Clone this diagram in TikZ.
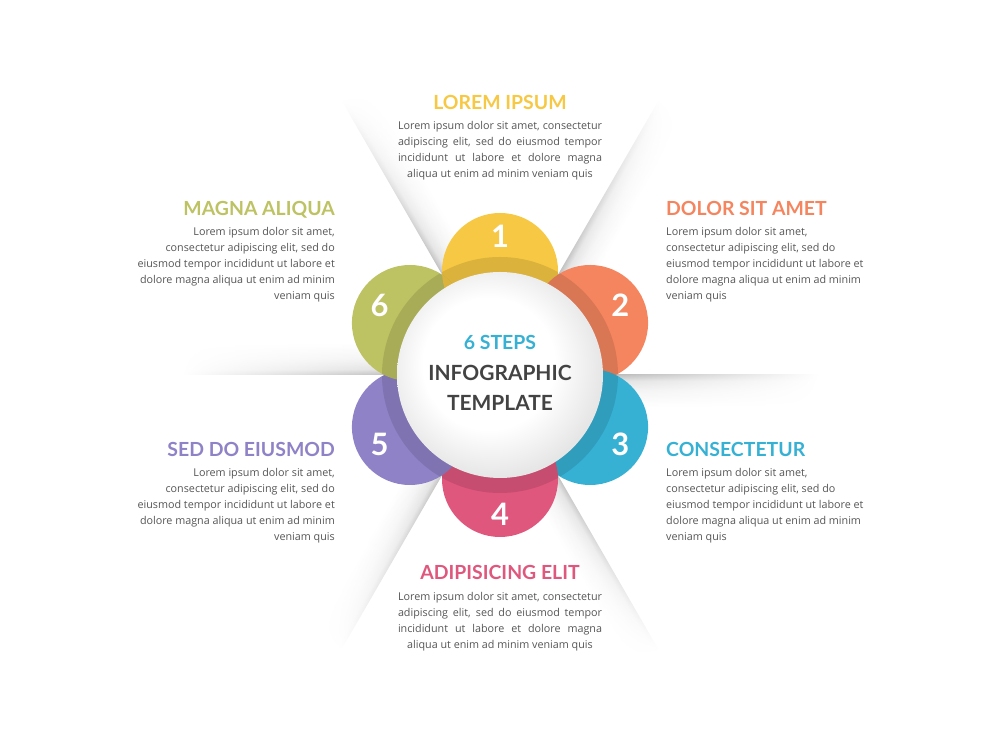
\documentclass[tikz,border=0pt]{standalone}
\usepackage{fontspec}
\setmainfont{Open Sans}
\newfontfamily\lato{Lato}
\usetikzlibrary{fadings,calc}

\definecolor{cyel}{HTML}{F7C843}
\definecolor{cora}{HTML}{F4855F}
\definecolor{cblu}{HTML}{36B1D4}
\definecolor{cpnk}{HTML}{DF577D}
\definecolor{cpur}{HTML}{9082C7}
\definecolor{cgrn}{HTML}{BDC262}
\definecolor{tgray}{HTML}{555555}
\definecolor{dgray}{HTML}{434343}

\pgfdeclareverticalshading{rayshadow}{100bp}{color(0bp)=(white); color(25bp)=(white); color(50bp)=(black!5); color(66bp)=(black!12); color(75bp)=(black!26); color(100bp)=(black!26)}
\pgfdeclareradialshading{discsh}{\pgfpoint{-4bp}{4bp}}{color(0bp)=(white); color(16bp)=(white); color(27bp)=(black!10); color(50bp)=(black!10)}
\tikzfading[name=rayfade, left color=transparent!0, middle color=transparent!15, right color=transparent!100]

\begin{document}
\begin{tikzpicture}[x=1bp,y=1bp,
  title/.style={font=\lato\bfseries\fontsize{19.5}{22}\selectfont, inner sep=0},
  ctitle/.style={font=\lato\bfseries\fontsize{21}{24}\selectfont, inner sep=0},
  body/.style={font=\fontsize{10.8}{16}\selectfont, text=tgray, inner sep=0},
  num/.style={font=\lato\bfseries\fontsize{31}{32}\selectfont, text=white, inner sep=0},
  petal/.style={radius=58}]
\useasboundingbox (0,0) rectangle (1000,750);
\coordinate (C) at (500,375);

% shadow rays
\foreach \a in {0,60,...,300}{
  \begin{scope}[transform canvas={rotate around={\a:(C)}}]
    \shade[shading=rayshadow, path fading=rayfade] ($(C)+(105,-32)$) rectangle ($(C)+(318,0)$);
  \end{scope}
}

% petal centres
\foreach \i/\a in {1/90,2/30,3/-30,4/-90,5/-150,6/150}
  \coordinate (p\i) at ($(C)+(\a:104)$);

% petals
\fill[cyel] (p1) circle[petal];
\fill[cora] (p2) circle[petal];
\fill[cblu] (p3) circle[petal];
\fill[cpnk] (p4) circle[petal];
\fill[cpur] (p5) circle[petal];
\fill[cgrn] (p6) circle[petal];
\begin{scope}
  \clip (p6) circle[petal];
  \fill[cyel] (p1) circle[petal];
\end{scope}
% darker ring around the central disc
\begin{scope}
  \clip (p1) circle[petal] (p2) circle[petal] (p3) circle[petal]
        (p4) circle[petal] (p5) circle[petal] (p6) circle[petal];
  \fill[black, opacity=0.11] (C) circle (118);
\end{scope}

% central disc
\shade[shading=discsh] (C) circle (103);

% numbers
\foreach \i/\a in {1/90,2/30,3/-30,4/-90,5/-150,6/150}
  \node[num] (n\i) at ($(C)+(\a:139)$) {\i};

% centre text
\node[ctitle, text=cblu, anchor=base, font=\lato\bfseries\fontsize{19.5}{22}\selectfont] (steps) at (500,400) {6 STEPS};
\node[ctitle, text=dgray, anchor=base] (info) at (500,369) {INFOGRAPHIC};
\node[ctitle, text=dgray, anchor=base] (tmpl) at (500,339) {TEMPLATE};

% top block
\node[title, text=cyel, anchor=base] (h1) at (500,640) {LOREM IPSUM};
\node[body, anchor=base] (a1) at (500,620) {\makebox[204bp][s]{Lorem ipsum dolor sit amet, consectetur}};
\node[body, anchor=base] (a2) at (500,604) {\makebox[204bp][s]{adipiscing elit, sed do eiusmod tempor}};
\node[body, anchor=base] (a3) at (500,588) {\makebox[204bp][s]{incididunt ut labore et dolore magna}};
\node[body, anchor=base] (a4) at (500,572) {aliqua ut enim ad minim veniam quis};

% bottom block
\node[title, text=cpnk, anchor=base] (h4) at (500,170) {ADIPISICING ELIT};
\node[body, anchor=base] (d1) at (500,149) {\makebox[204bp][s]{Lorem ipsum dolor sit amet, consectetur}};
\node[body, anchor=base] (d2) at (500,133) {\makebox[204bp][s]{adipiscing elit, sed do eiusmod tempor}};
\node[body, anchor=base] (d3) at (500,117) {\makebox[204bp][s]{incididunt ut labore et dolore magna}};
\node[body, anchor=base] (d4) at (500,101) {aliqua ut enim ad minim veniam quis};

% top-left block
\node[title, text=cgrn, anchor=base east] (h6) at (335,534) {MAGNA ALIQUA};
\node[body, anchor=base east] (f1) at (335,514) {Lorem ipsum dolor sit amet,};
\node[body, anchor=base east] (f2) at (335,498) {consectetur adipiscing elit, sed do};
\node[body, anchor=base east] (f3) at (335,482) {eiusmod tempor incididunt ut labore et};
\node[body, anchor=base east] (f4) at (335,466) {dolore magna aliqua ut enim ad minim};
\node[body, anchor=base east] (f5) at (335,450) {veniam quis};

% top-right block
\node[title, text=cora, anchor=base west] (h2) at (666,534) {DOLOR SIT AMET};
\node[body, anchor=base west] (b1) at (666,514) {Lorem ipsum dolor sit amet,};
\node[body, anchor=base west] (b2) at (666,498) {consectetur adipiscing elit, sed do};
\node[body, anchor=base west] (b3) at (666,482) {eiusmod tempor incididunt ut labore et};
\node[body, anchor=base west] (b4) at (666,466) {dolore magna aliqua ut enim ad minim};
\node[body, anchor=base west] (b5) at (666,450) {veniam quis};

% bottom-left block
\node[title, text=cpur, anchor=base east] (h5) at (335,293) {SED DO EIUSMOD};
\node[body, anchor=base east] (e1) at (335,273) {Lorem ipsum dolor sit amet,};
\node[body, anchor=base east] (e2) at (335,257) {consectetur adipiscing elit, sed do};
\node[body, anchor=base east] (e3) at (335,241) {eiusmod tempor incididunt ut labore et};
\node[body, anchor=base east] (e4) at (335,225) {dolore magna aliqua ut enim ad minim};
\node[body, anchor=base east] (e5) at (335,209) {veniam quis};

% bottom-right block
\node[title, text=cblu, anchor=base west] (h3) at (666,293) {CONSECTETUR};
\node[body, anchor=base west] (c1) at (666,273) {Lorem ipsum dolor sit amet,};
\node[body, anchor=base west] (c2) at (666,257) {consectetur adipiscing elit, sed do};
\node[body, anchor=base west] (c3) at (666,241) {eiusmod tempor incididunt ut labore et};
\node[body, anchor=base west] (c4) at (666,225) {dolore magna aliqua ut enim ad minim};
\node[body, anchor=base west] (c5) at (666,209) {veniam quis};
\end{tikzpicture}
\end{document}
